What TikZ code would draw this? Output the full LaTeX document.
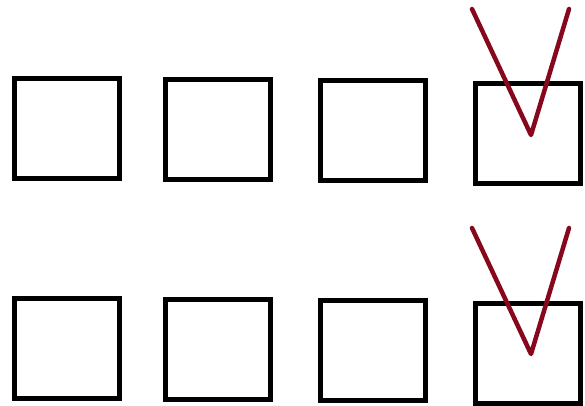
\documentclass[tikz,border=0pt]{standalone}
\usepackage{tikz}
\definecolor{tickred}{RGB}{135,8,28}

\begin{document}
\begin{tikzpicture}[x=1pt, y=-1pt,
    % styles
    cell/.style={draw, line width=5.5pt, minimum width=105pt, minimum height=100pt, inner sep=0pt},
    tick/.style={draw=tickred, line width=4.5pt, line cap=round, line join=round}
]
    \useasboundingbox (0,0) rectangle (585,405);

    % --- top row ---
    \node[cell] (a1) at (67,  128.5) {};
    \node[cell] (a2) at (218, 129.5) {};
    \node[cell] (a3) at (373, 130.5) {};
    \node[cell] (a4) at (528, 133.5) {};

    % --- bottom row ---
    \node[cell] (b1) at (67,  348.5) {};
    \node[cell] (b2) at (218, 349.5) {};
    \node[cell] (b3) at (373, 350.5) {};
    \node[cell] (b4) at (528, 353.5) {};

    % tick marks on the last box of each row
    \coordinate (a_left)  at (472, 9);
    \coordinate (a_tip)   at (531, 135);
    \coordinate (a_right) at (569, 9);
    \draw[tick] (a_left) -- (a_tip) -- (a_right);

    \coordinate (b_left)  at (472, 228);
    \coordinate (b_tip)   at (531, 354);
    \coordinate (b_right) at (569, 228);
    \draw[tick] (b_left) -- (b_tip) -- (b_right);

\end{tikzpicture}
\end{document}
